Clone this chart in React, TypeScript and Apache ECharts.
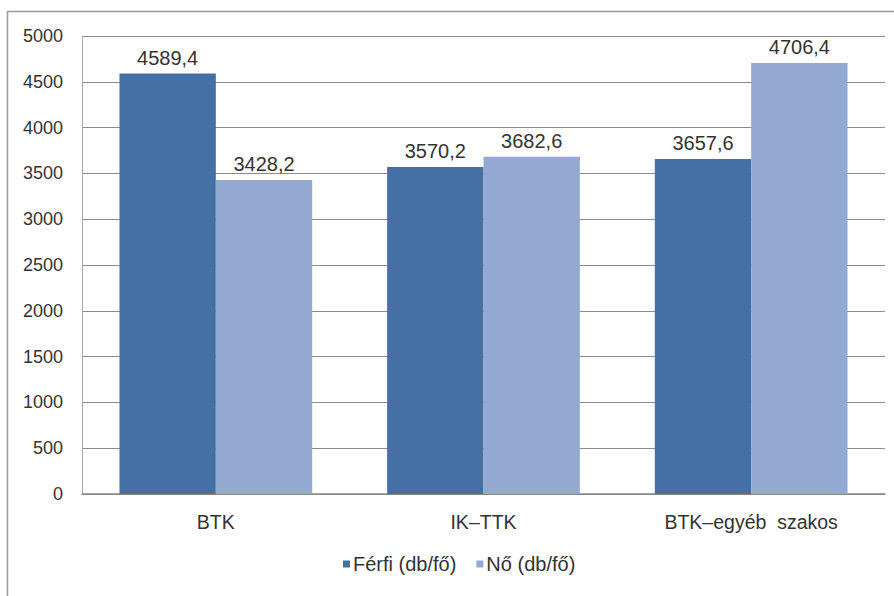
import React, { useEffect, useRef } from "react";
import * as echarts from "echarts";

const categories = ["BTK", "IK\u2013TTK", "BTK\u2013egy\u00e9b  szakos"];
const seriesNames = ["F\u00e9rfi (db/f\u0151)", "N\u0151 (db/f\u0151)"];
const ferfiValues = [4589.4, 3570.2, 3657.6];
const noValues = [3428.2, 3682.6, 4706.4];
const colors = ["#4470a6", "#93a9d1"];

export default function App() {
  const ref = useRef<HTMLDivElement>(null);
  useEffect(() => {
    if (!ref.current) return;
    const chart = echarts.init(ref.current, undefined, { renderer: "svg" });
    const font = "'Liberation Sans', Arial, sans-serif";
    const label = {
      show: true,
      position: "top",
      distance: 6,
      color: "#333",
      fontFamily: font,
      fontSize: 20,
      formatter: (p: any) => String(p.value).replace(".", ","),
    };
    chart.setOption({
      animation: false,
      backgroundColor: "#ffffff",
      graphic: [
        {
          type: "rect",
          shape: { x: 7.5, y: 11.5, width: 900, height: 600 },
          style: { fill: "none", stroke: "#9a9a9a", lineWidth: 1.5 },
          silent: true,
        },
      ],
      grid: { left: 82, right: 9, top: 36, bottom: 102, containLabel: false },
      legend: {
        bottom: 17,
        left: 338,
        itemWidth: 7,
        itemHeight: 7,
        itemGap: 20,
        icon: "rect",
        textStyle: { color: "#333", fontFamily: font, fontSize: 20, padding: [0, 0, 0, -2] },
        data: seriesNames,
      },
      xAxis: {
        type: "category",
        data: categories,
        axisTick: { show: false },
        axisLine: { lineStyle: { color: "#888", width: 1.5 } },
        axisLabel: { color: "#333", fontFamily: font, fontSize: 19.5, margin: 18 },
      },
      yAxis: {
        type: "value",
        min: 0,
        max: 5000,
        interval: 500,
        axisLine: { show: true, lineStyle: { color: "#aaa" } },
        axisTick: { show: false },
        splitLine: { lineStyle: { color: "#8c8c8c", width: 1.2 } },
        axisLabel: {
          color: "#333",
          fontFamily: font,
          fontSize: 18,
          margin: 19,
          formatter: (v: number) => String(v),
        },
      },
      series: [
        {
          name: seriesNames[0],
          type: "bar",
          data: ferfiValues,
          itemStyle: { color: colors[0] },
          barGap: "0%",
          barCategoryGap: "28%",
          label,
        },
        {
          name: seriesNames[1],
          type: "bar",
          data: noValues,
          itemStyle: { color: colors[1] },
          barGap: "0%",
          barCategoryGap: "28%",
          label,
        },
      ],
    });
    return () => chart.dispose();
  }, []);
  return (
    <div
      ref={ref}
      style={{ position: "absolute", left: 0, top: 0, width: 894, height: 596 }}
    />
  );
}
